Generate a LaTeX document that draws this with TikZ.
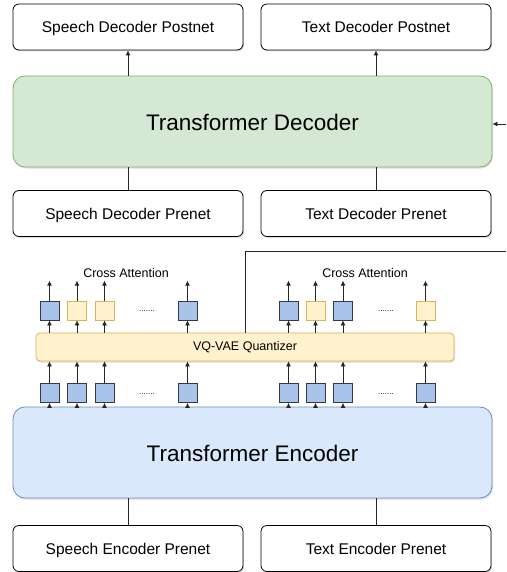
\documentclass[tikz,border=0pt]{standalone}
\usepackage{fontspec}
\setmainfont{Liberation Sans}
\usetikzlibrary{arrows.meta,shadows}
\definecolor{decfill}{HTML}{D5E8D4}
\definecolor{decline}{HTML}{82B366}
\definecolor{encfill}{HTML}{DAE8FC}
\definecolor{encline}{HTML}{6C8EBF}
\definecolor{qfill}{HTML}{FFF2CC}
\definecolor{qline}{HTML}{D6B656}
\definecolor{sqblue}{HTML}{A9C4EB}
\definecolor{sqline}{HTML}{36393D}
\tikzset{
  shad/.style={drop shadow={shadow xshift=1pt,shadow yshift=-1.5pt,opacity=0.22,fill=black!60}},
  wbox/.style={draw=black,fill=white,rounded corners=6pt,line width=0.8pt,minimum width=230pt,minimum height=46pt,inner sep=0pt,text height=11.5pt,text depth=0.4pt,font=\fontsize{15.5}{18}\selectfont,shad},
  bigbox/.style={rounded corners=12pt,line width=0.8pt,minimum width=479pt,minimum height=91pt,inner sep=0pt,text height=18pt,text depth=0pt,font=\fontsize{22.5}{26}\selectfont,shad},
  qbox/.style={draw=qline,fill=qfill,rounded corners=4pt,line width=0.8pt,minimum width=418pt,minimum height=28pt,inner sep=0pt,text height=9pt,text depth=1.6pt,font=\fontsize{12.5}{15}\selectfont,shad},
  bsq/.style={draw=sqline,fill=sqblue,line width=0.8pt,minimum size=19pt,inner sep=0pt},
  ysq/.style={draw=qline,fill=qfill,line width=0.8pt,minimum size=19pt,inner sep=0pt},
  arr/.style={draw=black!85,line width=0.8pt,-{Latex[length=5pt,width=5pt]}},
  ln/.style={draw=black!85,line width=0.8pt},
  lbl/.style={font=\fontsize{12.5}{15}\selectfont,inner sep=0pt},
  dots/.style={font=\fontsize{8}{9}\selectfont,inner sep=0pt}
}
\begin{document}
\begin{tikzpicture}[x=1pt,y=-1pt]
\useasboundingbox (0,0) rectangle (506,572);
% top postnets
\node[wbox] (sdpost) at (128,27) {Speech Decoder Postnet};
\node[wbox] (tdpost) at (376,27) {Text Decoder Postnet};
% decoder
\node[bigbox,draw=decline,fill=decfill] (dec) at (252.5,121.5) {Transformer Decoder};
% decoder prenets
\node[wbox] (sdpre) at (128,213.5) {Speech Decoder Prenet};
\node[wbox] (tdpre) at (376,213.5) {Text Decoder Prenet};
% quantizer
\node[qbox] (vq) at (245,347) {VQ-VAE Quantizer};
% encoder
\node[bigbox,draw=encline,fill=encfill] (enc) at (252.5,452.5) {Transformer Encoder};
% encoder prenets
\node[wbox] (sepre) at (128,548.5) {Speech Encoder Prenet};
\node[wbox] (tepre) at (376,548.5) {Text Encoder Prenet};

% upper squares
\node[bsq] (u1) at (49.5,310.5) {};
\node[ysq] (u2) at (77,310.5) {};
\node[ysq] (u3) at (104.5,310.5) {};
\node[bsq] (u4) at (187.5,310.5) {};
\node[bsq] (u5) at (288.5,310.5) {};
\node[ysq] (u6) at (315.5,310.5) {};
\node[bsq] (u7) at (343,310.5) {};
\node[ysq] (u8) at (425.5,310.5) {};
% lower squares
\node[bsq] (l1) at (49.5,393) {};
\node[bsq] (l2) at (77,393) {};
\node[bsq] (l3) at (104.5,393) {};
\node[bsq] (l4) at (187.5,393) {};
\node[bsq] (l5) at (288.5,393) {};
\node[bsq] (l6) at (315.5,393) {};
\node[bsq] (l7) at (343,393) {};
\node[bsq] (l8) at (425.5,393) {};

\node[dots] (d1) at (147,311) {.......};
\node[dots] (d2) at (386,311) {.......};
\node[dots] (d3) at (147,394) {.......};
\node[dots] (d4) at (386,394) {.......};

\node[lbl] (ca1) at (126,273) {Cross Attention};
\node[lbl] (ca2) at (365,273) {Cross Attention};

% connectors
\draw[arr] (sdpost.south |- dec.north) -- (sdpost.south);
\draw[arr] (tdpost.south |- dec.north) -- (tdpost.south);
\draw[ln] (sdpre.north) -- (sdpre.north |- dec.south);
\draw[ln] (tdpre.north) -- (tdpre.north |- dec.south);
\draw[ln] (sepre.north) -- (sepre.north |- enc.south);
\draw[ln] (tepre.north) -- (tepre.north |- enc.south);

\foreach \i in {1,...,8}{
  \draw[arr] (l\i.south |- enc.north) -- (l\i.south);
  \draw[arr] (l\i.north) -- (l\i.north |- vq.south);
  \draw[arr] (u\i.south |- vq.north) -- (u\i.south);
  \draw[arr] (u\i.north) -- ++(0,-20);
}

% feedback line
\coordinate (fb0) at (245,251);
\coordinate (fb1) at (506,251);
\coordinate (fbin) at (506,124);
\draw[ln] (fb0 |- vq.north) -- (fb0) -- (fb1);
\draw[arr] (fbin) -- (fbin -| dec.east);
\end{tikzpicture}
\end{document}
